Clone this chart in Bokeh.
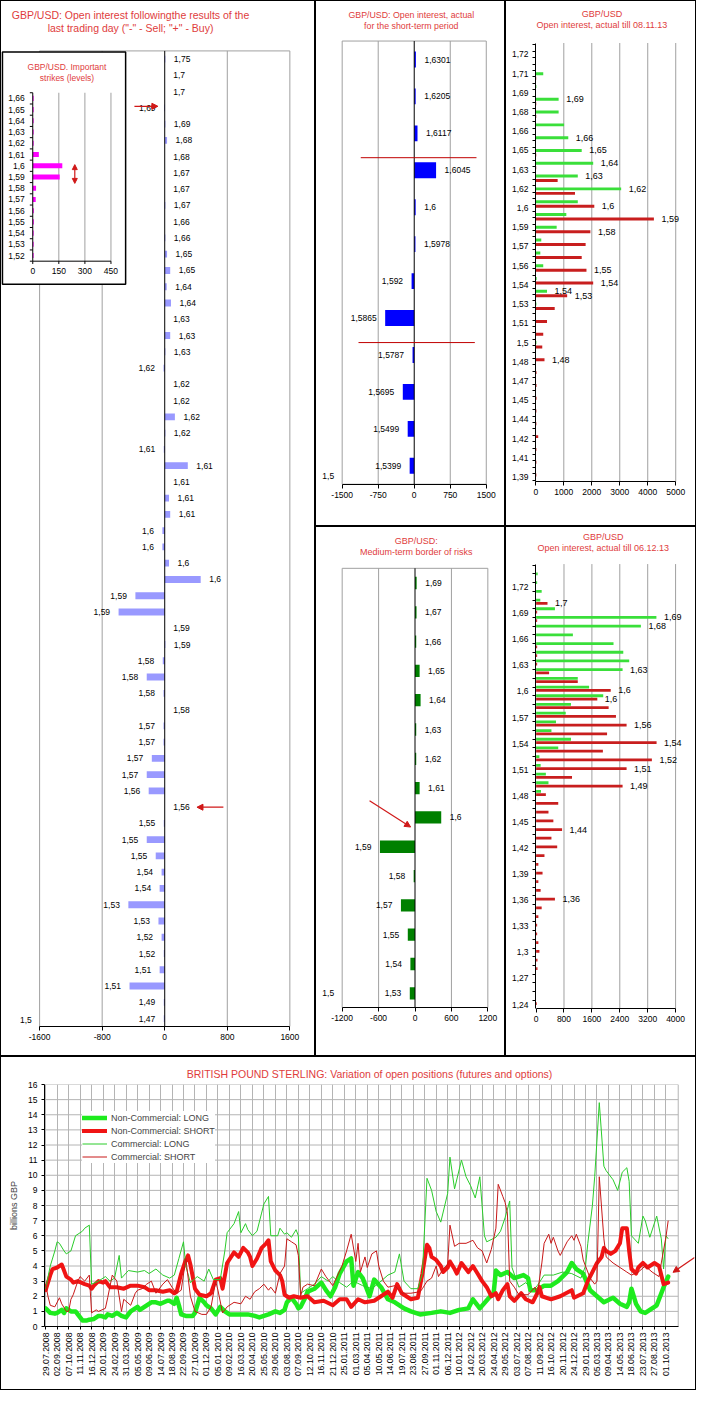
import math
from bokeh.plotting import figure
from bokeh.models import Range1d, FixedTicker, Arrow, NormalHead, Legend, LegendItem
from bokeh.layouts import row, column
from bokeh.embed import file_html
from bokeh.resources import INLINE
from bokeh.core.properties import value

# ------------------------------------------------------------------ data
# Left panel: open interest following the last trading day
L_LABELS = ["1,75", "1,7", "1,7", "1,69", "1,69", "1,68", "1,68", "1,67", "1,67", "1,67",
            "1,66", "1,66", "1,65", "1,65", "1,64", "1,64", "1,63", "1,63", "1,63",
            "1,62", "1,62", "1,62", "1,62", "1,62",
            "1,61", "1,61", "1,61", "1,61", "1,61",
            "1,6", "1,6", "1,6", "1,6",
            "1,59", "1,59", "1,59", "1,59",
            "1,58", "1,58", "1,58", "1,58",
            "1,57", "1,57", "1,57", "1,57",
            "1,56", "1,56",
            "1,55", "1,55", "1,55",
            "1,54", "1,54",
            "1,53", "1,53",
            "1,52", "1,52",
            "1,51", "1,51",
            "1,49", "1,47"]
L_VALUES = [8, 0, 0, -8, 8, 30, 0, 0, 0, 8, 0, 8, 30, 70, 25, 80, 0, 70, 8,
            -15, 0, 0, 130, 8,
            -12, 295, 0, 55, 70,
            -30, -30, 55, 460,
            -375, -590, 0, 8,
            -25, -230, -15, 0,
            -15, -15, -165, -230,
            -205, 0,
            -12, -230, -115,
            -40, -65,
            -465, -80,
            -40, -12,
            -65, -450,
            -12, -12]
L_TICKS = [-1600, -800, 0, 800, 1600]

# Inset: important strikes
INSET_LABELS = ["1,66", "1,65", "1,64", "1,63", "1,62", "1,61", "1,6", "1,59", "1,58",
                "1,57", "1,56", "1,55", "1,54", "1,53", "1,52"]
INSET_VALUES = [5, 5, 5, 5, 5, 35, 170, 155, 19, 17, 6, 6, 5, 5, 5]
INSET_TICKS = [0, 150, 300, 450]

# Middle top: short-term period
MT_LABELS = ["1,6301", "1,6205", "1,6117", "1,6045", "1,6", "1,5978", "1,592", "1,5865",
             "1,5787", "1,5695", "1,5499", "1,5399"]
MT_VALUES = [35, 30, 68, 455, 30, 25, -55, -605, -35, -238, -136, -95]
MT_TICKS = [-1500, -750, 0, 750, 1500]

# Middle bottom: medium-term border of risks
MB_LABELS = ["1,69", "1,67", "1,66", "1,65", "1,64", "1,63", "1,62", "1,61", "1,6", "1,59",
             "1,58", "1,57", "1,55", "1,54", "1,53"]
MB_VALUES = [27, 25, 20, 76, 92, 20, 20, 76, 432, -578, -22, -232, -119, -76, -86]
MB_TICKS = [-1200, -600, 0, 600, 1200]

# Right top: open interest till 08.11.13 (strikes 1.72 .. 1.39)
RT_STRIKES = [round(1.72 - 0.01 * i, 2) for i in range(34)]
RT_CALLS = [0, 265, 20, 815, 815, 1010, 1160, 1640, 2050, 1500, 3050, 1500, 1090, 745, 195,
            160, 265, 30, 400, 20, 0, 0, 20, 0, 0, 0, 0, 0, 0, 0, 0, 0, 0, 0]
RT_PUTS = [0, 0, 15, 0, 15, 15, 0, 0, 15, 15, 780, 1400, 2090, 4220, 1950, 1780, 1640, 1810,
           2050, 1120, 675, 400, 265, 230, 310, 25, 25, 25, 20, 20, 85, 20, 20, 20]
RT_CALL_TXT = ["", "", "", "1,69", "", "", "1,66", "1,65", "1,64", "1,63", "1,62", "", "", "",
               "", "", "", "", "1,54", "", "", "", "", "", "", "", "", "", "", "", "", "", "", ""]
RT_PUT_TXT = ["", "", "", "", "", "", "", "", "", "", "", "", "1,6", "1,59", "1,58", "", "",
              "1,55", "1,54", "1,53", "", "", "", "", "1,48", "", "", "", "", "", "", "", "", ""]
RT_AXIS_LABELS = ["1,72", "1,71", "1,69", "1,68", "1,66", "1,65", "1,63", "1,62", "1,6", "1,59",
                  "1,57", "1,56", "1,54", "1,53", "1,51", "1,5", "1,48", "1,47", "1,45", "1,44",
                  "1,42", "1,41", "1,39"]
RT_TICKS = [0, 1000, 2000, 3000, 4000, 5000]

# Right bottom: open interest till 06.12.13 (strikes 1.74 .. 1.24)
RB_STRIKES = [round(1.74 - 0.01 * i, 2) for i in range(51)]
RB_CALLS = [45, 30, 160, 120, 540, 3450, 3005, 1055, 2220, 2500, 2670, 2480, 1195, 1520, 1925,
            1000, 850, 570, 440, 1000, 635, 95, 130, 280, 355, 140] + [0] * 25
RB_PUTS = [0, 0, 0, 0, 327, 30, 30, 0, 0, 30, 30, 30, 373, 1195, 2140, 1755, 2080, 2290, 2595,
           2035, 3455, 1915, 3320, 2595, 1030, 2480, 280, 635, 355, 495, 745, 440, 605, 240, 65,
           185, 65, 130, 540, 160, 65, 30, 30, 65, 95, 40, 40, 0, 0, 0, 20]
RB_CALL_TXT = ["", "", "", "", "", "1,69", "1,68", "", "", "", "", "1,63"] + [""] * 39
RB_PUT_TXT = ["", "", "", "", "1,7", "", "", "", "", "", "", "", "", "", "1,6", "1,6", "", "",
              "1,56", "", "1,54", "", "1,52", "1,51", "", "1,49", "", "", "", "", "1,44", "", "",
              "", "", "", "", "", "1,36", "", "", "", "", "", "", "", "", "", "", "", ""]
RB_AXIS_LABELS = ["1,72", "1,69", "1,66", "1,63", "1,6", "1,57", "1,54", "1,51", "1,48", "1,45",
                  "1,42", "1,39", "1,36", "1,33", "1,3", "1,27", "1,24"]
RB_TICKS = [0, 800, 1600, 2400, 3200, 4000]

# Bottom chart: weekly COT positions, billions GBP (week index from 29.07.2008)
DATES = ["29.07.2008", "02.09.2008", "07.10.2008", "11.11.2008", "16.12.2008", "20.01.2009",
         "24.02.2009", "31.03.2009", "05.05.2009", "09.06.2009", "14.07.2009", "18.08.2009",
         "22.09.2009", "27.10.2009", "01.12.2009", "05.01.2010", "09.02.2010", "16.03.2010",
         "20.04.2010", "25.05.2010", "29.06.2010", "03.08.2010", "07.09.2010", "12.10.2010",
         "16.11.2010", "21.12.2010", "25.01.2011", "01.03.2011", "05.04.2011", "10.05.2011",
         "14.06.2011", "19.07.2011", "23.08.2011", "27.09.2011", "01.11.2011", "06.12.2011",
         "10.01.2012", "14.02.2012", "20.03.2012", "24.04.2012", "29.05.2012", "03.07.2012",
         "07.08.2012", "11.09.2012", "16.10.2012", "20.11.2012", "24.12.2012", "29.01.2013",
         "05.03.2013", "09.04.2013", "14.05.2013", "18.06.2013", "23.07.2013", "27.08.2013",
         "01.10.2013"]

NCL_W = [0, 2, 4, 5, 7, 8, 9, 11, 13, 16,
         18, 19, 21, 23, 24, 26, 27, 29, 31, 33,
         35, 37, 40, 41, 43, 46, 48, 50, 53, 54,
         56, 57, 58, 59, 61, 64, 65, 66, 67, 69,
         70, 72, 73, 74, 76, 78, 80, 85, 88, 91,
         93, 97, 100, 102, 104, 105, 107, 109, 110, 111,
         113, 114, 117, 120, 122, 124, 126, 128, 131, 133,
         134, 136, 138, 141, 143, 146, 149, 152, 156, 159,
         163, 168, 172, 176, 180, 184, 186, 189, 193, 195,
         196, 198, 201, 204, 208, 210, 211, 214, 217, 220,
         223, 227, 229, 231, 234, 237, 240, 243, 247, 250,
         253, 254, 255, 257, 259, 261, 264, 266, 268, 269,
         271]
NCL_V = [1.2, 0.9, 0.85, 0.9, 1.1, 0.9, 1.2, 1.0, 1.0, 0.4,
         0.4, 0.45, 0.5, 0.7, 0.7, 0.6, 0.8, 0.7, 0.9, 0.7,
         0.6, 1.0, 1.3, 1.1, 1.3, 1.6, 1.6, 1.5, 1.7, 1.7,
         1.5, 1.9, 1.4, 0.8, 0.7, 0.7, 0.9, 1.4, 1.9, 1.6,
         1.4, 1.2, 1.0, 0.8, 1.3, 1.0, 0.8, 0.8, 0.8, 0.7,
         0.6, 0.8, 1.0, 0.9, 1.1, 1.6, 1.9, 1.5, 1.2, 1.3,
         1.9, 2.3, 2.5, 2.9, 2.4, 2.0, 2.6, 3.5, 4.3, 4.5,
         2.7, 3.6, 3.2, 2.0, 3.1, 2.6, 1.8, 1.6, 1.2, 1.0,
         0.8, 0.9, 1.0, 0.9, 1.1, 1.2, 1.8, 1.2, 1.9, 2.2,
         3.7, 3.4, 3.6, 3.2, 3.4, 3.2, 2.4, 2.4, 2.7, 2.7,
         3.0, 3.6, 4.2, 3.8, 3.5, 2.4, 2.0, 1.6, 1.9, 1.5,
         1.3, 1.6, 2.5, 1.5, 1.0, 0.9, 1.2, 1.4, 2.2, 2.6,
         3.3]

NCS_W = [0, 2, 3, 5, 7, 8, 9, 11, 12, 14,
         17, 19, 20, 21, 23, 25, 26, 28, 31, 34,
         37, 40, 43, 45, 48, 51, 54, 56, 57, 59,
         61, 62, 63, 65, 67, 70, 72, 74, 76, 77,
         79, 82, 84, 86, 88, 89, 90, 92, 94, 96,
         97, 98, 100, 102, 103, 104, 106, 108, 111, 114,
         117, 121, 125, 128, 131, 133, 136, 139, 143, 146,
         149, 151, 153, 155, 159, 162, 164, 166, 167, 168,
         170, 172, 173, 175, 176, 178, 179, 181, 183, 184,
         186, 188, 190, 192, 193, 194, 196, 197, 199, 201,
         202, 204, 207, 209, 212, 214, 215, 216, 220, 224,
         229, 230, 234, 236, 238, 240, 242, 243, 244, 246,
         248, 250, 251, 253, 254, 255, 257, 258, 260, 262,
         265, 267, 269, 271]
NCS_V = [2.4, 3.4, 3.8, 3.9, 4.1, 3.7, 3.3, 3.1, 2.9, 3.0,
         2.8, 2.7, 2.5, 2.7, 3.0, 2.9, 3.0, 2.6, 2.6, 2.5,
         2.7, 2.7, 2.6, 2.4, 2.4, 2.3, 2.4, 2.2, 2.3, 3.5,
         4.4, 4.7, 4.1, 2.5, 2.1, 2.0, 2.2, 3.1, 3.2, 2.5,
         4.2, 4.9, 4.6, 5.2, 4.9, 4.6, 4.0, 4.5, 5.2, 5.5,
         5.7, 4.3, 3.7, 3.4, 3.0, 2.1, 1.9, 2.0, 1.9, 2.0,
         1.6, 1.7, 1.4, 1.8, 1.8, 1.3, 1.8, 1.6, 1.7, 2.0,
         2.3, 1.9, 2.8, 2.2, 1.8, 1.9, 3.5, 5.4, 5.2, 4.6,
         4.4, 4.0, 3.6, 3.9, 4.3, 3.8, 3.5, 4.2, 3.8, 3.6,
         4.0, 3.5, 3.0, 2.6, 2.3, 2.0, 2.2, 1.8, 2.4, 2.8,
         2.0, 1.7, 2.2, 1.8, 1.6, 2.2, 2.6, 2.0, 1.8, 2.0,
         2.4, 1.9, 2.2, 3.0, 3.6, 4.2, 4.6, 5.2, 5.0, 4.8,
         5.0, 5.5, 6.5, 6.5, 5.0, 3.8, 3.5, 3.9, 4.2, 3.9,
         4.2, 4.0, 2.8, 2.9]

CL_W = [0, 2, 4, 5, 6, 8, 9, 11, 13, 16,
        17, 19, 20, 23, 26, 28, 30, 32, 33, 36,
        40, 43, 45, 48, 51, 54, 56, 58, 60, 61,
        63, 66, 69, 71, 73, 76, 78, 79, 82, 84,
        85, 87, 88, 90, 92, 94, 95, 97, 98, 101,
        102, 104, 105, 107, 109, 110, 111, 114, 117, 120,
        123, 125, 128, 131, 134, 138, 142, 146, 149, 152,
        154, 156, 159, 162, 164, 166, 168, 170, 172, 175,
        176, 178, 181, 183, 185, 187, 189, 191, 192, 196,
        198, 200, 202, 203, 206, 209, 212, 214, 217, 221,
        225, 229, 233, 235, 236, 238, 239, 241, 243, 244,
        247, 249, 251, 253, 254, 255, 258, 260, 261, 263,
        266, 268, 269, 270, 271]
CL_V = [2.5, 4.0, 5.0, 5.6, 5.5, 5.0, 4.8, 5.0, 6.0, 6.3,
        6.5, 6.7, 2.8, 3.0, 3.3, 3.0, 3.2, 4.7, 3.2, 3.7,
        3.6, 3.7, 3.5, 3.8, 3.4, 3.2, 3.4, 4.5, 5.6, 4.0,
        2.9, 3.3, 3.0, 3.8, 3.1, 3.1, 5.0, 6.2, 6.8, 7.6,
        6.2, 6.8, 6.4, 6.0, 6.3, 7.5, 8.1, 8.6, 6.0, 6.0,
        6.5, 6.1, 6.2, 5.9, 6.4, 6.0, 2.2, 2.5, 2.8, 3.3,
        3.0, 3.3, 2.9, 2.6, 3.0, 2.7, 2.5, 3.0, 3.4, 3.6,
        4.8, 3.0, 2.5, 2.5, 3.5, 9.8, 9.0, 7.6, 6.9, 8.8,
        11.2, 9.1, 11.0, 9.9, 9.3, 8.5, 9.9, 6.0, 5.6, 5.9,
        6.3, 7.2, 8.3, 3.9, 2.6, 2.9, 2.4, 2.7, 3.4, 3.4,
        3.6, 3.5, 3.2, 4.0, 5.5, 8.0, 9.9, 14.8, 10.6, 10.3,
        9.7, 9.0, 10.2, 10.5, 9.6, 6.0, 5.5, 7.3, 7.0, 5.9,
        7.3, 5.8, 3.8, 6.0, 5.8]

CS_W = [0, 1, 2, 4, 6, 7, 9, 10, 11, 12,
        14, 15, 17, 19, 20, 22, 23, 26, 27, 29,
        31, 33, 34, 37, 39, 40, 42, 44, 46, 48,
        51, 53, 55, 57, 59, 61, 63, 65, 68, 70,
        72, 74, 75, 77, 79, 82, 85, 87, 89, 91,
        93, 95, 97, 98, 100, 102, 104, 105, 107, 109,
        110, 111, 112, 114, 117, 120, 122, 125, 129, 131,
        133, 135, 136, 137, 139, 140, 142, 144, 145, 147,
        149, 152, 155, 159, 163, 164, 166, 168, 170, 171,
        173, 175, 176, 178, 180, 183, 186, 188, 190, 192,
        194, 196, 197, 199, 200, 201, 202, 204, 206, 210,
        213, 214, 216, 217, 219, 220, 221, 223, 224, 227,
        229, 230, 231, 233, 234, 237, 239, 240, 241, 243,
        244, 247, 250, 253, 255, 258, 261, 264, 267, 268,
        270, 271]
CS_V = [2.8, 2.0, 1.4, 1.3, 1.9, 1.5, 1.0, 1.0, 1.8, 2.1,
        3.0, 3.3, 3.0, 3.4, 0.9, 1.1, 1.0, 1.2, 1.9, 3.4,
        3.0, 1.0, 1.8, 1.4, 2.2, 2.4, 2.5, 2.8, 3.0, 2.2,
        2.8, 3.1, 2.6, 2.2, 2.4, 4.5, 2.0, 1.0, 0.8, 0.8,
        1.3, 3.0, 2.4, 0.9, 1.3, 1.6, 1.5, 2.0, 1.8, 2.3,
        2.5, 2.8, 2.4, 2.6, 2.2, 3.5, 4.0, 5.8, 5.6, 5.4,
        4.7, 2.0, 2.6, 2.8, 2.7, 3.8, 3.3, 2.7, 4.0, 5.0,
        6.1, 4.3, 5.5, 3.6, 4.6, 3.9, 4.8, 5.0, 4.0, 3.0,
        2.6, 2.7, 2.2, 2.2, 2.3, 2.5, 3.0, 3.2, 4.0, 3.3,
        3.8, 4.1, 6.7, 5.3, 5.5, 5.5, 5.7, 5.2, 5.0, 4.2,
        5.1, 6.5, 9.4, 8.6, 8.2, 7.5, 3.0, 2.6, 2.1, 2.1,
        2.6, 2.1, 4.2, 5.5, 6.1, 5.5, 5.9, 5.0, 4.7, 5.6,
        6.0, 5.7, 6.1, 5.3, 4.4, 3.2, 2.8, 3.0, 9.9, 5.8,
        4.6, 4.2, 3.9, 3.6, 3.4, 3.6, 4.0, 3.6, 3.3, 4.2,
        5.9, 7.0]

# ------------------------------------------------------------------ style
SX = 696 / 712
SY = 1390 / 1406
FONT = "Liberation Sans"
FS = "8.5px"
RED_T = "#E03C3C"
GRID = "#A0A0A0"
ARROW_C = "#D01818"
BAR_GREEN = "#3ADF3A"
BAR_RED = "#C81E1E"
BORDER = {"outline": "1px solid #000000", "outline-offset": "-1px"}


class Lin:
    """Linear map from reference-picture pixels to data values."""
    def __init__(self, v0, p0, v1, p1):
        self.v0, self.p0 = v0, p0
        self.k = (v1 - v0) / (p1 - p0)

    def __call__(self, p):
        return self.v0 + (p - self.p0) * self.k


def frame_box(X0, Y0, W, H, bl, br, bt, bb):
    return (X0 + bl / SX, Y0 + bt / SY, (W - bl - br) / SX, (H - bt - bb) / SY)


def ranges(mx, my, fb):
    fx0, fy0, fw, fh = fb
    return (Range1d(start=mx(fx0), end=mx(fx0 + fw)),
            Range1d(start=my(fy0 + fh), end=my(fy0)))


def make_panel(X0, Y0, W, H, bl, br, bt, bb, mx, my, yaxis=False):
    fb = frame_box(X0, Y0, W, H, bl, br, bt, bb)
    xr, yr = ranges(mx, my, fb)
    p = figure(width=W, height=H, x_range=xr, y_range=yr, output_backend="svg",
               toolbar_location=None, title_location=None,
               y_axis_location=("left" if yaxis else None),
               min_border_left=bl, min_border_right=br, min_border_top=bt,
               min_border_bottom=bb, background_fill_color=None, border_fill_color=None,
               outline_line_color=None, styles=BORDER)
    p.grid.visible = False
    return p, fb


def style_axis(ax, ticks, labels=None, bounds=None, tick_out=4, minor=None):
    ax.ticker = FixedTicker(ticks=ticks, minor_ticks=(minor or []))
    ax.major_label_overrides = {t: (labels[i] if labels else str(t)) for i, t in enumerate(ticks)}
    if bounds is not None:
        ax.bounds = bounds
    ax.axis_line_color = "black"
    ax.axis_line_width = 1
    ax.major_tick_line_color = "black"
    ax.major_tick_out = tick_out
    ax.major_tick_in = 0
    ax.minor_tick_line_color = "black" if minor else None
    ax.minor_tick_out = 3
    ax.minor_tick_in = 0
    ax.major_label_text_font = FONT
    ax.major_label_text_font_size = FS
    ax.major_label_text_color = "black"
    ax.major_label_standoff = 3


def texts(p, xs, ys, txt, align="center", color="black", xoff=0, size=FS, **kw):
    p.text(x=list(xs), y=list(ys), text=list(txt), text_font=value(FONT), text_font_size=size,
           text_color=color, text_align=align, text_baseline="middle", x_offset=xoff, **kw)


def bar_labels(p, ys, vals, labels, gap, **kw):
    pos = [(v, y, t) for v, y, t in zip(vals, ys, labels) if v >= 0 and t]
    neg = [(v, y, t) for v, y, t in zip(vals, ys, labels) if v < 0 and t]
    if pos:
        texts(p, [a[0] for a in pos], [a[1] for a in pos], [a[2] for a in pos],
              align="left", xoff=gap, **kw)
    if neg:
        texts(p, [a[0] for a in neg], [a[1] for a in neg], [a[2] for a in neg],
              align="right", xoff=-gap, **kw)


def arrow(p, x0, y0, x1, y1, both=False, size=6):
    def head():
        return NormalHead(size=size, fill_color=ARROW_C, line_color=ARROW_C, line_width=1)
    p.add_layout(Arrow(start=(head() if both else None), end=head(), x_start=x0, y_start=y0,
                       x_end=x1, y_end=y1, line_color=ARROW_C, line_width=1.2))


def category_panel(p, n, vals, labels, ticks, color, height):
    idx = list(range(n))
    lo, hi = ticks[0], ticks[-1]
    p.quad(left=lo, right=hi, top=-0.5, bottom=n - 0.5, fill_color=None, line_color=GRID)
    inner = [t for t in ticks[1:-1] if t != 0]
    p.segment(x0=inner, y0=-0.5, x1=inner, y1=n - 0.5, line_color=GRID)
    p.hbar(y=idx, left=0, right=vals, height=height, fill_color=color, line_color=None)
    p.segment(x0=0, y0=-0.5, x1=0, y1=n - 0.5, line_color="black", line_width=1)
    bar_labels(p, idx, vals, labels, 8.5)
    style_axis(p.xaxis[0], ticks, bounds=(lo, hi))


# ------------------------------------------------------------------ left panel
mxL = Lin(-1600, 40, 1600, 296)
myL = Lin(-0.5, 51, 59.5, 1038)
pl, fbL = make_panel(0, 0, 315, 1056, 0, 0, 0, 30, mxL, myL)
category_panel(pl, len(L_VALUES), L_VALUES, L_LABELS, L_TICKS, "#9999FF", 0.42)
texts(pl, [mxL(133)] * 2, [myL(15), myL(28)],
      ["GBP/USD: Open interest followingthe results of the",
       "last trading day (\"-\" - Sell; \"+\" - Buy)"], color=RED_T, size="10.5px")
texts(pl, [mxL(26)], [myL(1031)], ["1,5"])
arrow(pl, mxL(137), myL(107), mxL(161), myL(107))
arrow(pl, mxL(228), myL(816), mxL(201), myL(816))

# inset: important strikes
mxI = Lin(0, 33, 450, 113)
myI = Lin(0, 99, 14, 258)
xrI, yrI = ranges(mxI, myI, fbL)
pl.extra_x_ranges = {"ix": xrI}
pl.extra_y_ranges = {"iy": yrI}
kwI = dict(x_range_name="ix", y_range_name="iy")
nI = len(INSET_VALUES)
pl.quad(left=mxL(2), right=mxL(128), top=myL(52), bottom=myL(287), fill_color="white",
        line_color="black", line_width=1.5)
pl.segment(x0=INSET_TICKS[1:], y0=-0.5, x1=INSET_TICKS[1:], y1=nI - 0.5, line_color=GRID, **kwI)
pl.hbar(y=list(range(nI)), left=0, right=INSET_VALUES, height=0.45, fill_color="#FF00FF",
        line_color=None, **kwI)
pl.segment(x0=0, y0=-0.5, x1=0, y1=nI - 0.5, line_color="black", **kwI)
pl.segment(x0=0, y0=nI - 0.5, x1=INSET_TICKS[-1], y1=nI - 0.5, line_color="black", **kwI)
bnd = [j - 0.5 for j in range(nI + 1)]
pl.segment(x0=mxI(30), y0=bnd, x1=0, y1=bnd, line_color="black", **kwI)
pl.segment(x0=INSET_TICKS, y0=nI - 0.5, x1=INSET_TICKS, y1=myI(266.5), line_color="black", **kwI)
texts(pl, [0] * nI, list(range(nI)), INSET_LABELS, align="right", xoff=-8, **kwI)
texts(pl, INSET_TICKS, [myI(274)] * len(INSET_TICKS), [str(t) for t in INSET_TICKS], **kwI)
texts(pl, [mxL(68)] * 2, [myL(67), myL(78)], ["GBP/USD. Important", "strikes (levels)"],
      color=RED_T, size="8.5px")
arrow(pl, mxL(76), myL(166), mxL(76), myL(185), both=True, size=5)

# ------------------------------------------------------------------ middle top
mxMT = Lin(-1500, 349.3, 1500, 496.7)
myMT = Lin(-0.5, 41, 11.5, 489.3)
pmt, _ = make_panel(322, 0, 190, 526, 0, 0, 0, 42, mxMT, myMT)
category_panel(pmt, len(MT_VALUES), MT_VALUES, MT_LABELS, MT_TICKS, "#0000FF", 0.43)
pmt.segment(x0=[mxMT(368.3), mxMT(366)], y0=[myMT(159), myMT(346)],
            x1=[mxMT(486.7), mxMT(485)], y1=[myMT(159), myMT(346)],
            line_color="#C00000", line_width=1)
texts(pmt, [mxMT(420)] * 2, [myMT(15), myMT(26)],
      ["GBP/USD: Open interest, actual", "for the short-term period"], color=RED_T,
      size="8.8px")
texts(pmt, [mxMT(335)], [myMT(481)], ["1,5"])

# ------------------------------------------------------------------ middle bottom
mxMB = Lin(-1200, 349.3, 1200, 498.3)
myMB = Lin(-0.5, 574.3, 14.5, 1019)
pmb, _ = make_panel(322, 532, 190, 530, 0, 0, 0, 49, mxMB, myMB)
category_panel(pmb, len(MB_VALUES), MB_VALUES, MB_LABELS, MB_TICKS, "#008000", 0.42)
arrow(pmb, mxMB(377.3), myMB(809.3), mxMB(419.3), myMB(836))
texts(pmb, [mxMB(425)] * 2, [myMB(546.7), myMB(557.3)],
      ["GBP/USD:", "Medium-term border of risks"], color=RED_T, size="9px")
texts(pmb, [mxMB(335)], [myMB(1004)], ["1,5"])


# ------------------------------------------------------------------ right panels
def strike_panel(p, my, strikes, calls, puts, ctxt, ptxt, ticks, top_px, bot_px, base_px,
                 put_shift_px, bar_px, axis_pos, axis_labels, minor):
    top_v, bot_v = my(top_px), my(bot_px)
    shift = my(base_px - put_shift_px) - my(base_px)
    h = my(base_px - bar_px) - my(base_px)
    p.segment(x0=ticks[1:], y0=bot_v, x1=ticks[1:], y1=top_v, line_color=GRID)
    p.hbar(y=strikes, left=0, right=calls, height=h, fill_color=BAR_GREEN, line_color=None)
    pys = [s + shift for s in strikes]
    p.hbar(y=pys, left=0, right=puts, height=h, fill_color=BAR_RED, line_color=None)
    bar_labels(p, strikes, calls, ctxt, 7.5, size="9px")
    bar_labels(p, pys, puts, ptxt, 7.5, size="9px")
    style_axis(p.xaxis[0], ticks, bounds=(0, ticks[-1]))
    ya = p.yaxis[0]
    style_axis(ya, axis_pos, labels=axis_labels, bounds=(bot_v, top_v), tick_out=0, minor=minor)
    ya.major_label_standoff = 4


mxRT = Lin(0, 547, 5000, 691)
myRT = Lin(1.71, 74, 1.39, 74 + 0.32 * 1295)
prt, _ = make_panel(517, 0, 191, 526, 29, 0, 0, 45, mxRT, myRT, yaxis=True)
strike_panel(prt, myRT, RT_STRIKES, RT_CALLS, RT_PUTS, RT_CALL_TXT, RT_PUT_TXT, RT_TICKS,
             43, 487, 74, 8.4, 3.0,
             [round(1.725 - 0.015 * k, 4) for k in range(len(RT_AXIS_LABELS))], RT_AXIS_LABELS,
             [round(1.7325 - 0.005 * m, 4) for m in range(69)])
texts(prt, [mxRT(615)] * 2, [myRT(14), myRT(25)],
      ["GBP/USD", "Open interest, actual till 08.11.13"], color=RED_T, size="9px")

mxRB = Lin(0, 548.3, 4000, 691)
myRB = Lin(1.69, 624, 1.24, 1020)
prb, _ = make_panel(517, 532, 191, 530, 30, 0, 0, 48, mxRB, myRB, yaxis=True)
strike_panel(prb, myRB, RB_STRIKES, RB_CALLS, RB_PUTS, RB_CALL_TXT, RB_PUT_TXT, RB_TICKS,
             570, 1020, 624, 5.5, 2.8,
             [round(1.725 - 0.03 * k, 4) for k in range(len(RB_AXIS_LABELS))], RB_AXIS_LABELS,
             [round(1.75 - 0.01 * m, 4) for m in range(51)])
texts(prb, [mxRB(617)] * 2, [myRB(542.7), myRB(553.3)],
      ["GBP/USD", "Open interest, actual till 06.12.13"], color=RED_T, size="9px")

# ------------------------------------------------------------------ bottom chart
mxB = Lin(0, 46.2, 270, 680.7)
myB = Lin(0, 1340.7, 16, 1096.3)
fbB = frame_box(0, 1068, 696, 334, 44, 2, 28, 64)
xrB, _ = ranges(mxB, myB, fbB)
GRID_B = "#B4B4B4"
pb = figure(width=696, height=334, x_range=xrB, y_range=Range1d(0, 16), output_backend="svg",
            toolbar_location=None,
            title="BRITISH POUND STERLING: Variation of open positions (futures and options)",
            min_border_left=44, min_border_right=2, min_border_top=28, min_border_bottom=64,
            background_fill_color=None, border_fill_color=None, outline_line_color=None,
            styles=BORDER)
pb.title.align = "center"
pb.title.offset = -10
pb.title.text_color = RED_T
pb.title.text_font = FONT
pb.title.text_font_size = "10.5px"
pb.title.text_font_style = "normal"
pb.title.standoff = 9

x_lo, x_hi = mxB(45), mxB(693.3)
ya = pb.yaxis[0]
style_axis(ya, list(range(17)), tick_out=3)
ya.major_label_standoff = 4
ya.axis_label = "billions GBP"
ya.axis_label_text_font = FONT
ya.axis_label_text_font_size = "9px"
ya.axis_label_text_font_style = "normal"
ya.axis_label_standoff = 6
xa = pb.xaxis[0]
style_axis(xa, [5 * k for k in range(len(DATES))], labels=DATES, tick_out=3,
           bounds=(x_lo, x_hi))
xa.major_label_text_font_size = "8.7px"
xa.major_label_orientation = math.pi / 2
pb.xgrid.ticker = xa.ticker
pb.xgrid.grid_line_color = GRID_B
pb.ygrid.visible = False
hy = list(range(1, 16))
pb.segment(x0=x_lo, y0=hy, x1=x_hi, y1=hy, line_color=GRID_B)
pb.quad(left=x_lo, right=x_hi, bottom=0, top=16, fill_color=None, line_color=GRID_B)

r1 = pb.line(NCL_W, NCL_V, line_width=4.5, line_color="#1EEB1E", line_join="round",
             line_cap="round")
r2 = pb.line(NCS_W, NCS_V, line_width=4, line_color="#F01414", line_join="round",
             line_cap="round")
r3 = pb.line(CL_W, CL_V, line_width=1, line_color="#2ACC2A", line_join="round")
r4 = pb.line(CS_W, CS_V, line_width=1, line_color="#C81818", line_join="round")
legend = Legend(items=[LegendItem(label="Non-Commercial: LONG", renderers=[r1]),
                       LegendItem(label="Non-Commercial: SHORT", renderers=[r2]),
                       LegendItem(label="Commercial: LONG", renderers=[r3]),
                       LegendItem(label="Commercial: SHORT", renderers=[r4])],
                location=(38, 163), background_fill_color="white", background_fill_alpha=1,
                border_line_color=None, label_text_font=FONT, label_text_font_size="9px",
                glyph_width=25, glyph_height=13, label_height=13, spacing=0, padding=12,
                margin=0, label_standoff=4)
pb.add_layout(legend)
arrow(pb, mxB(710), myB(1271), mxB(688), myB(1286))

layout = column(row(pl, column(pmt, pmb), column(prt, prb)), pb)
open("out.html", "w").write(file_html(layout, INLINE, title="GBP/USD open interest"))
